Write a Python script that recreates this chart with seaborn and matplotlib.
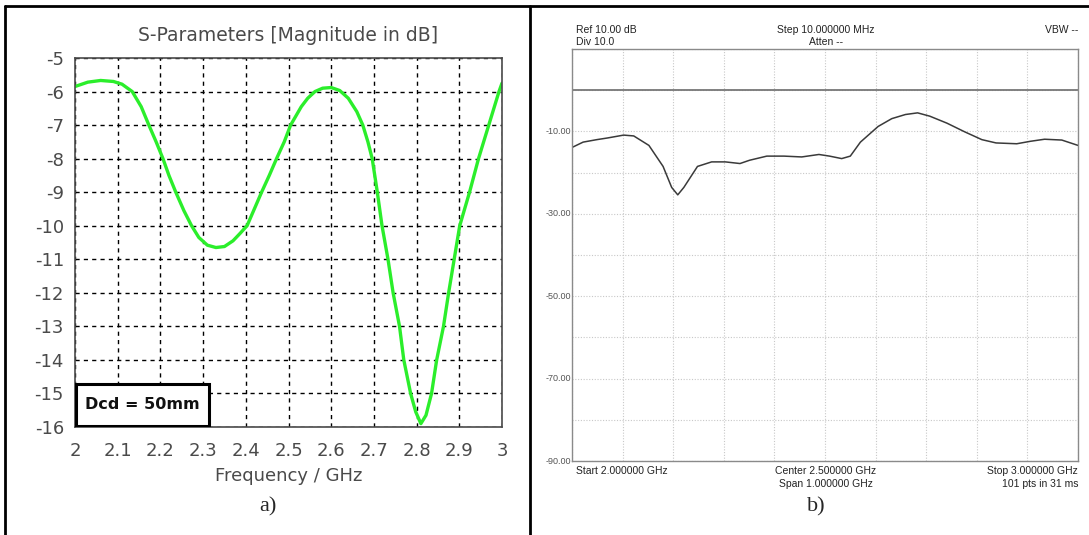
import numpy as np
import pandas as pd
import matplotlib
matplotlib.use("Agg")
import matplotlib.pyplot as plt
import seaborn as sns
from matplotlib.lines import Line2D
from matplotlib.patches import Rectangle

# simulated S11 (panel a)
sim_freq = [2.00, 2.03, 2.06, 2.09, 2.11, 2.134, 2.155, 2.173, 2.19, 2.206,
            2.22, 2.236, 2.255, 2.273, 2.29, 2.31, 2.33, 2.35, 2.37, 2.385,
            2.403, 2.42, 2.437, 2.455, 2.472, 2.49, 2.505, 2.53, 2.545, 2.562,
            2.58, 2.60, 2.62, 2.64, 2.66, 2.674, 2.686, 2.696, 2.708, 2.719,
            2.733, 2.745, 2.760, 2.770, 2.786, 2.798, 2.810, 2.822, 2.835,
            2.847, 2.863, 2.875, 2.888, 2.901, 2.924, 2.945, 2.969, 2.993, 3.00]
sim_s11 = [-5.85, -5.72, -5.67, -5.70, -5.78, -6.0, -6.45, -7.0, -7.5, -8.0,
           -8.5, -9.0, -9.55, -10.0, -10.35, -10.58, -10.65, -10.62, -10.45, -10.25,
           -10.0, -9.5, -9.0, -8.5, -8.0, -7.5, -7.0, -6.45, -6.2, -6.0,
           -5.9, -5.88, -5.97, -6.2, -6.6, -7.0, -7.5, -8.0, -9.0, -10.0,
           -11.0, -12.0, -13.0, -14.0, -15.0, -15.55, -15.9, -15.65, -15.0,
           -14.0, -13.0, -12.0, -11.0, -10.0, -9.0, -8.0, -7.0, -6.0, -5.75]

# measured trace (panel b)
meas_freq = [2.000, 2.022, 2.049, 2.070, 2.102, 2.122, 2.152, 2.180, 2.197, 2.209,
             2.221, 2.248, 2.276, 2.303, 2.332, 2.351, 2.385, 2.419, 2.454, 2.488,
             2.509, 2.533, 2.550, 2.570, 2.605, 2.632, 2.659, 2.683, 2.707, 2.741,
             2.776, 2.810, 2.838, 2.879, 2.906, 2.934, 2.968, 3.000]
meas_db = [-13.9, -12.6, -12.0, -11.6, -10.9, -11.1, -13.4, -18.5, -23.6, -25.4,
           -23.6, -18.5, -17.4, -17.4, -17.8, -17.0, -16.0, -16.0, -16.2, -15.6,
           -16.0, -16.6, -16.0, -12.6, -8.8, -6.9, -5.9, -5.5, -6.3, -8.0,
           -10.1, -12.0, -12.8, -13.0, -12.4, -11.9, -12.1, -13.4]

sim_yticks = list(range(-16, -4))
sim_xticks = [2, 2.1, 2.2, 2.3, 2.4, 2.5, 2.6, 2.7, 2.8, 2.9, 3]
sim_xlabels = ["2", "2.1", "2.2", "2.3", "2.4", "2.5", "2.6", "2.7", "2.8", "2.9", "3"]
sa_ylabels = ["-10.00", "-30.00", "-50.00", "-70.00", "-90.00"]

W, H = 1089, 535


def box(x0, y0, x1, y1):
    return [x0 / W, 1 - y1 / H, (x1 - x0) / W, (y1 - y0) / H]


sns.set_theme(style="white")
plt.rcParams["font.family"] = ["DejaVu Sans"]
plt.rcParams["axes.unicode_minus"] = False

fig = plt.figure(figsize=(W / 100, H / 100), dpi=100)

# outer frame
fig.add_artist(Line2D([5 / W, 5 / W], [0, 1 - 6 / H], transform=fig.transFigure, color="black", lw=2))
fig.add_artist(Line2D([5 / W, 1], [1 - 6 / H, 1 - 6 / H], transform=fig.transFigure, color="black", lw=2))
fig.add_artist(Line2D([530 / W, 530 / W], [0, 1 - 6 / H], transform=fig.transFigure, color="black", lw=2))

# ---- panel a ----
grey = "#4a4a4a"
ax1 = fig.add_axes(box(75, 58, 502, 427))
df_sim = pd.DataFrame({"freq": sim_freq, "s11": sim_s11})
sns.lineplot(data=df_sim, x="freq", y="s11", ax=ax1, color="#2bee2b", lw=2.4, sort=False)
ax1.set_xlim(2, 3)
ax1.set_ylim(-16, -5)
ax1.set_xticks(sim_xticks)
ax1.set_xticklabels(sim_xlabels)
ax1.set_yticks(sim_yticks)
ax1.grid(True, color="black", ls=(0, (3, 3)), lw=1)
for s in ax1.spines.values():
    s.set_color(grey)
    s.set_linewidth(1.2)
ax1.tick_params(axis="both", length=5, width=1.2, color=grey, direction="out",
                labelsize=13, labelcolor=grey, pad=3)
ax1.tick_params(axis="x", pad=6)
ax1.set_xlabel("Frequency / GHz", fontsize=13, color=grey, labelpad=5)
ax1.set_ylabel("")
ax1.set_title("S-Parameters [Magnitude in dB]", fontsize=13.5, color=grey, pad=12)
ax1.add_patch(Rectangle((0.003, 0.003), 0.31, 0.114, transform=ax1.transAxes,
                        fc="white", ec="black", lw=2.2, zorder=5))
ax1.text(0.158, 0.06, "Dcd = 50mm", transform=ax1.transAxes, fontsize=11.5, fontweight="bold",
         color="#111111", va="center", ha="center", zorder=6)
fig.text(268 / W, 1 - 507 / H, "a)", fontsize=16, family="Liberation Serif", ha="center", va="center")

# ---- panel b ----
ax2 = fig.add_axes(box(572, 49, 1078, 461))
df_meas = pd.DataFrame({"freq": meas_freq, "db": meas_db})
sns.lineplot(data=df_meas, x="freq", y="db", ax=ax2, color="#3a3a3a", lw=1.1, sort=False)
ax2.axhline(0, color="#777777", lw=1.3)
ax2.set_xlim(2, 3)
ax2.set_ylim(-90, 10)
ax2.set_xticks(np.linspace(2, 3, 11))
ax2.set_yticks(list(range(-90, 11, 10)))
ax2.set_yticklabels([""] * 11)
ax2.set_xticklabels([])
ax2.grid(True, color="#c8c8c8", ls=(0, (1, 1.5)), lw=0.8)
ax2.tick_params(length=0)
for s in ax2.spines.values():
    s.set_color("#8a8a8a")
    s.set_linewidth(1.0)
ax2.set_xlabel("")
ax2.set_ylabel("")
for lab in sa_ylabels:
    ax2.text(-0.002, float(lab), lab, transform=ax2.get_yaxis_transform(), ha="right",
             va="center", fontsize=6.5, color="#555555", family="Liberation Sans")

small = dict(fontsize=7.5, color="#222222", family="Liberation Sans")
fig.text(576 / W, 1 - 30 / H, "Ref 10.00 dB", ha="left", va="center", **small)
fig.text(576 / W, 1 - 42 / H, "Div 10.0", ha="left", va="center", **small)
fig.text(826 / W, 1 - 30 / H, "Step 10.000000 MHz", ha="center", va="center", **small)
fig.text(826 / W, 1 - 42 / H, "Atten --", ha="center", va="center", **small)
fig.text(1078 / W, 1 - 30 / H, "VBW --", ha="right", va="center", **small)
fig.text(576 / W, 1 - 471 / H, "Start 2.000000 GHz", ha="left", va="center", **small)
fig.text(826 / W, 1 - 471 / H, "Center 2.500000 GHz", ha="center", va="center", **small)
fig.text(826 / W, 1 - 484 / H, "Span 1.000000 GHz", ha="center", va="center", **small)
fig.text(1078 / W, 1 - 471 / H, "Stop 3.000000 GHz", ha="right", va="center", **small)
fig.text(1078 / W, 1 - 484 / H, "101 pts in 31 ms", ha="right", va="center", **small)
fig.text(816 / W, 1 - 507 / H, "b)", fontsize=16, family="Liberation Serif", ha="center", va="center")

fig.savefig("out.png", dpi=100, facecolor="white")
